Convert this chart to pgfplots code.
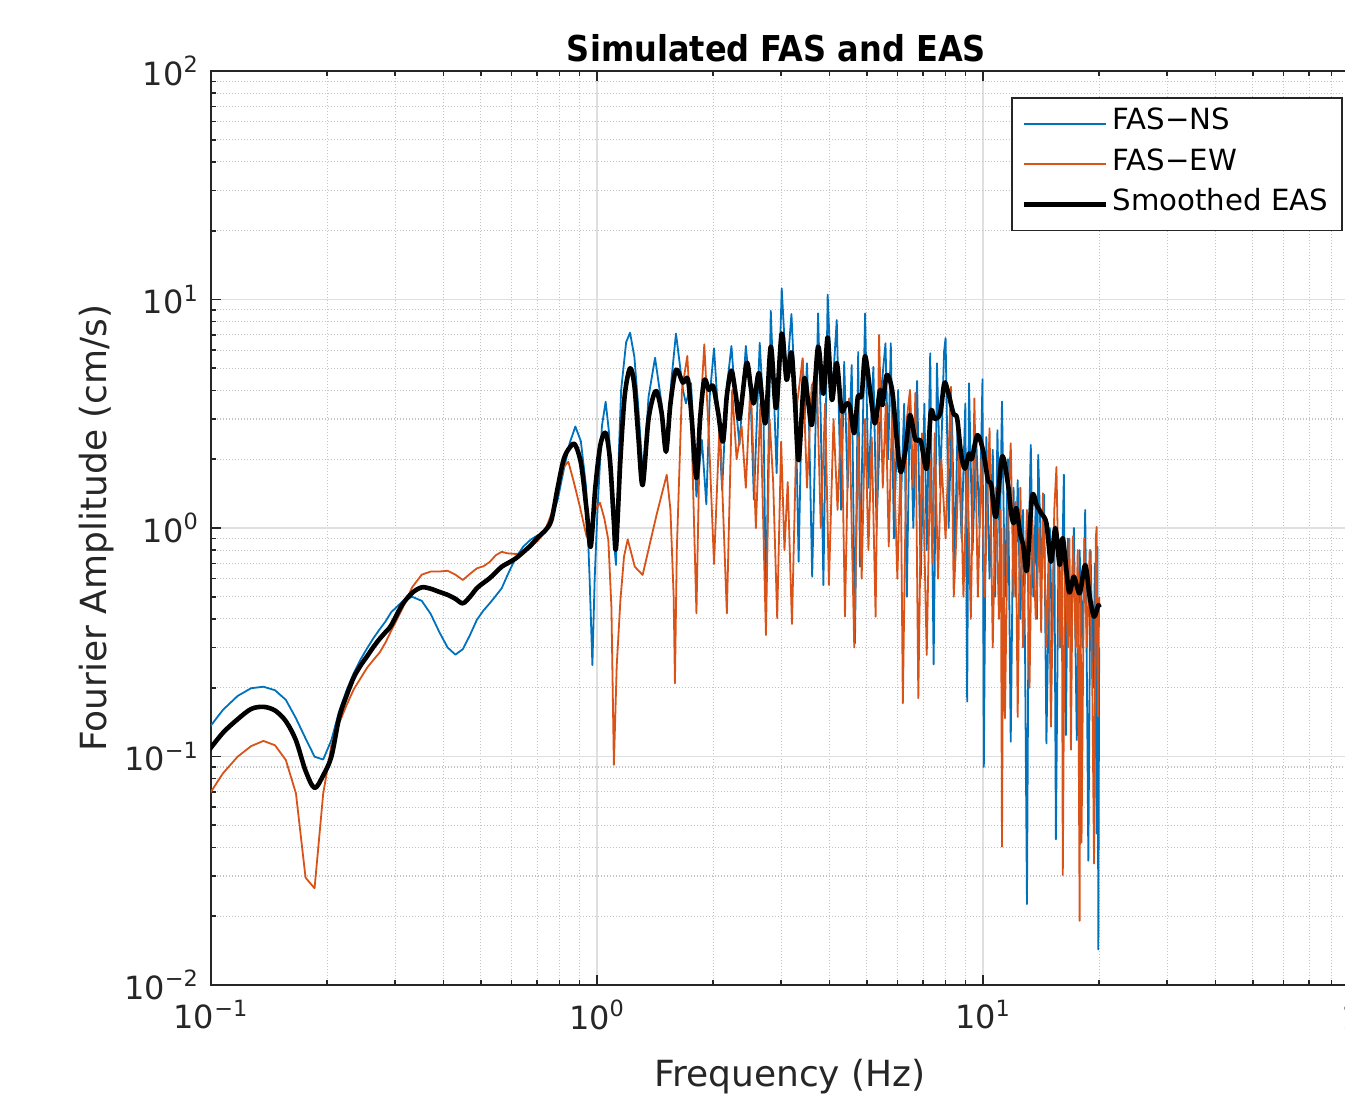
\documentclass[border=0pt]{standalone}
\usepackage{fontspec}
\setmainfont{DejaVu Sans}
\newfontfamily\titlefont{DejaVu Sans Condensed}
\usepackage{pgfplots}
\pgfplotsset{compat=1.18}
\definecolor{nsblue}{RGB}{0,114,189}
\definecolor{ewred}{RGB}{217,83,25}
\definecolor{axgray}{RGB}{38,38,38}
\definecolor{majgrid}{RGB}{223,223,223}
\definecolor{mingrid}{RGB}{195,195,195}
\begin{document}
\begin{tikzpicture}
\begin{axis}[
  at={(0,0)}, anchor=south west,
  scale only axis, width=579pt, height=457pt,
  xmode=log, ymode=log,
  xmin=0.1, xmax=100, ymin=0.01, ymax=100,
  xtick={0.1,1,10,100},
  xticklabels={10\textsuperscript{−1},10\textsuperscript{0},10\textsuperscript{1},10\textsuperscript{2}},
  minor xtick={0.2,0.3,0.4,0.5,0.6,0.7,0.8,0.9,2,3,4,5,6,7,8,9,20,30,40,50,60,70,80,90},
  ytick={0.01,0.1,1,10,100},
  yticklabels={10\textsuperscript{−2},10\textsuperscript{−1},10\textsuperscript{0},10\textsuperscript{1},10\textsuperscript{2}},
  minor ytick={0.02,0.03,0.04,0.05,0.06,0.07,0.08,0.09,0.2,0.3,0.4,0.5,0.6,0.7,0.8,0.9,2,3,4,5,6,7,8,9,20,30,40,50,60,70,80,90},
  grid=both,
  major grid style={draw=majgrid, line width=0.6pt},
  minor grid style={draw=mingrid, line width=0.55pt, dash pattern=on 0.6pt off 0.9pt},
  axis line style={draw=axgray, line width=0.8pt},
  every tick/.style={draw=axgray, line width=0.8pt},
  major tick length=5pt, minor tick length=2.5pt,
  tick align=inside,
  xtick pos=both, ytick pos=both,
  ticklabel style={font=\fontsize{16}{19}\selectfont, text=axgray},
  xticklabel style={yshift=-4pt},
  yticklabel style={xshift=-2.5pt},
  title={Simulated FAS and EAS},
  every axis title/.style={at={(axis description cs:0.4883,1)}, anchor=base, yshift=4.65pt,
     font=\titlefont\bfseries\fontsize{17.8}{21}\selectfont},
  xlabel={Frequency (Hz)},
  ylabel={Fourier Amplitude (cm/s)},
  every axis x label/.style={at={(axis description cs:0.5,-0.1113)}, anchor=base,
     font=\fontsize{18}{21}\selectfont, text=axgray},
  every axis y label/.style={at={(axis description cs:-0.0901,0.5)}, rotate=90, anchor=base,
     font=\fontsize{18}{21}\selectfont, text=axgray},
  legend style={at={(axis description cs:0.97755,0.97155)}, anchor=north east,
     draw=axgray, line width=0.8pt, fill=white,
     font=\fontsize{14.6}{17}\selectfont, inner xsep=5pt, inner ysep=6.5pt, row sep=7pt,
     nodes={inner sep=2pt, text height=0.76em, text depth=0.15em}},
  legend cell align=left,
  legend image code/.code={\draw[#1] (0pt,0pt) -- (41pt,0pt);},
]
\addplot[nsblue, line width=0.9pt, line join=round] coordinates {
(0.0977,0.130)(0.1074,0.160)(0.1172,0.184)(0.1270,0.199)(0.1367,0.202)(0.1465,0.195)
(0.1563,0.177)(0.1660,0.147)(0.1758,0.120)(0.1855,0.0998)(0.1953,0.097)(0.2051,0.118)
(0.2148,0.158)(0.2246,0.195)(0.2344,0.232)(0.2441,0.266)(0.2539,0.298)(0.2637,0.330)
(0.2734,0.360)(0.2832,0.390)(0.2930,0.428)(0.3125,0.475)(0.3320,0.500)(0.3516,0.480)
(0.3711,0.420)(0.3906,0.350)(0.4102,0.300)(0.4297,0.279)(0.4492,0.295)(0.4688,0.340)
(0.4883,0.396)(0.5078,0.435)(0.5273,0.468)(0.5469,0.505)(0.5664,0.545)(0.5859,0.620)
(0.6152,0.740)(0.6445,0.830)(0.6738,0.890)(0.7031,0.930)(0.7324,0.960)(0.7617,1.080)
(0.7910,1.330)(0.8203,1.800)(0.8496,2.350)(0.8789,2.780)(0.9082,2.400)(0.9375,1.500)
(0.9570,0.600)(0.9730,0.251)(0.9863,0.600)(1.0020,1.160)(1.0300,2.800)(1.0530,3.570)
(1.0750,2.600)(1.0890,1.370)(1.1050,0.900)(1.1200,0.689)(1.1400,2.200)(1.1550,4.020)
(1.1900,6.500)(1.2180,7.160)(1.2500,5.600)(1.2790,3.400)(1.3180,1.620)(1.3600,3.750)
(1.4140,5.560)(1.4700,3.510)(1.5100,2.120)(1.5600,4.500)(1.6020,7.100)(1.6700,4.020)
(1.7000,3.510)(1.7530,4.300)(1.8100,1.370)(1.8700,2.430)(1.9200,1.270)(1.9600,3.800)
(2.0100,6.120)(2.0600,3.190)(2.1100,1.470)(2.1700,4.150)(2.2300,6.260)(2.2900,3.400)
(2.3400,2.310)(2.4300,6.260)(2.5000,3.750)(2.5500,1.330)(2.6400,6.470)(2.7000,3.190)
(2.7400,0.476)(2.8200,8.930)(2.8800,3.400)(2.9200,1.740)(3.0100,11.20)(3.1000,4.450)
(3.1900,8.640)(3.2700,3.500)(3.3300,0.712)(3.4100,5.440)(3.4500,3.000)(3.5000,5.260)
(3.5500,2.500)(3.6100,0.612)(3.7400,8.700)(3.8000,3.000)(3.8600,0.563)(3.9600,10.50)
(4.0600,3.650)(4.1800,8.130)(4.2900,1.200)(4.3700,5.340)(4.4600,1.500)(4.5700,5.170)
(4.6600,0.313)(4.7500,5.900)(4.8000,0.677)(4.9500,8.700)(5.0500,1.500)(5.2000,5.070)
(5.3000,1.000)(5.4500,4.000)(5.5900,6.430)(5.6800,2.000)(5.7700,6.430)(5.8800,0.900)
(6.0300,4.020)(6.1200,1.200)(6.2500,3.500)(6.3500,0.500)(6.4700,4.000)(6.6000,1.000)
(6.7500,4.400)(6.9000,0.600)(7.0500,3.500)(7.1500,0.800)(7.3000,5.820)(7.4500,0.253)
(7.6000,5.260)(7.7500,1.500)(7.9300,5.900)(8.0000,6.780)(8.1500,1.000)(8.3000,3.500)
(8.4500,0.700)(8.6000,3.000)(8.8000,0.900)(9.0000,3.500)(9.1000,0.174)(9.2000,4.300)
(9.4000,0.800)(9.6000,2.500)(9.8000,1.000)(9.9700,4.480)(10.050,0.090)(10.200,2.500)
(10.400,0.600)(10.600,2.200)(10.750,0.500)(10.900,2.680)(11.050,0.800)(11.200,3.580)
(11.400,0.500)(11.600,2.000)(11.800,0.116)(12.000,1.500)(12.150,0.500)(12.300,1.620)
(12.500,0.400)(12.700,1.200)(12.850,0.300)(13.000,0.0226)(13.150,0.900)(13.300,2.310)
(13.500,0.500)(13.700,1.300)(13.800,0.400)(13.900,2.090)(14.200,0.600)(14.400,1.400)
(14.600,0.114)(14.900,1.000)(15.100,0.300)(15.300,1.080)(15.450,0.0434)(15.700,0.900)
(15.900,0.300)(16.200,1.710)(16.400,0.124)(16.600,0.900)(16.900,0.400)(17.200,1.000)
(17.500,0.118)(17.800,0.800)(18.100,0.300)(18.400,1.200)(18.600,0.200)(18.750,0.035)
(19.000,0.800)(19.300,0.200)(19.500,0.700)(19.700,0.046)(19.800,0.828)(19.900,0.0143)
(20.000,0.300)
};
\addlegendentry{FAS−NS}
\addplot[ewred, line width=0.9pt, line join=round] coordinates {
(0.0977,0.066)(0.1074,0.0844)(0.1172,0.0998)(0.1270,0.111)(0.1367,0.117)(0.1465,0.112)
(0.1563,0.0965)(0.1660,0.069)(0.1758,0.0295)(0.1855,0.0265)(0.1953,0.0687)(0.2051,0.112)
(0.2148,0.140)(0.2246,0.168)(0.2344,0.197)(0.2441,0.220)(0.2539,0.245)(0.2637,0.265)
(0.2734,0.285)(0.2832,0.315)(0.2930,0.355)(0.3125,0.440)(0.3320,0.550)(0.3516,0.625)
(0.3711,0.645)(0.3906,0.645)(0.4102,0.650)(0.4297,0.625)(0.4492,0.592)(0.4688,0.630)
(0.4883,0.666)(0.5078,0.680)(0.5273,0.710)(0.5469,0.760)(0.5664,0.787)(0.5859,0.775)
(0.6152,0.770)(0.6445,0.775)(0.6738,0.830)(0.7031,0.880)(0.7324,0.970)(0.7617,1.150)
(0.7910,1.450)(0.8203,1.850)(0.8430,1.950)(0.8700,1.600)(0.9030,1.240)(0.9400,0.916)
(0.9680,0.948)(0.9900,1.200)(1.0180,1.290)(1.0450,1.100)(1.0700,0.886)(1.0900,0.450)
(1.1060,0.092)(1.1250,0.250)(1.1500,0.484)(1.1750,0.750)(1.2010,0.892)(1.2530,0.677)
(1.3130,0.623)(1.3700,0.850)(1.4300,1.160)(1.5160,1.710)(1.5500,1.200)(1.5800,0.500)
(1.5920,0.209)(1.6100,0.800)(1.6600,4.000)(1.7140,5.660)(1.7600,2.500)(1.8100,0.423)
(1.8500,3.000)(1.8970,6.370)(1.9500,2.500)(2.0100,0.696)(2.0800,3.000)(2.1700,0.423)
(2.2400,4.020)(2.3000,2.000)(2.3700,2.780)(2.4300,1.500)(2.5000,4.450)(2.5800,1.000)
(2.6500,3.500)(2.7400,0.340)(2.8000,3.000)(2.8600,1.600)(2.9300,0.403)(3.0000,2.390)
(3.0600,0.800)(3.1200,1.590)(3.2000,0.380)(3.3000,3.500)(3.4100,5.530)(3.5000,1.500)
(3.6000,4.200)(3.7100,4.670)(3.8000,1.000)(3.9000,3.500)(3.9900,0.563)(4.1000,3.000)
(4.2000,1.200)(4.3000,3.300)(4.3900,0.410)(4.5000,3.690)(4.5700,1.000)(4.6400,0.300)
(4.7500,2.500)(4.8500,0.600)(4.9500,3.000)(5.0500,0.800)(5.1500,2.500)(5.2700,0.409)
(5.3800,7.000)(5.5000,1.500)(5.6000,3.500)(5.7000,0.830)(5.8200,3.500)(6.0000,0.600)
(6.1200,2.000)(6.2000,0.171)(6.3500,3.000)(6.4700,4.020)(6.6000,1.500)(6.6800,3.900)
(6.8000,0.180)(6.9500,2.600)(7.1500,0.278)(7.3000,2.000)(7.4000,0.700)(7.5000,2.600)
(7.6500,0.600)(7.8000,2.000)(8.0000,0.900)(8.2600,4.150)(8.4000,0.500)(8.5000,0.787)
(8.7000,2.500)(8.9000,0.500)(9.1000,2.000)(9.3000,0.400)(9.5000,3.690)(9.7000,0.500)
(9.9000,2.000)(10.100,0.500)(10.400,2.730)(10.600,0.300)(10.800,1.500)(11.000,0.400)
(11.120,1.200)(11.200,0.0403)(11.300,1.000)(11.400,0.147)(11.600,1.200)(11.800,2.350)
(12.000,0.500)(12.150,1.300)(12.300,0.149)(12.500,1.500)(12.700,0.300)(13.000,1.200)
(13.200,0.200)(13.400,1.180)(13.700,0.400)(14.000,1.000)(14.150,0.350)(14.300,1.420)
(14.600,0.300)(14.800,0.800)(15.000,0.135)(15.300,1.200)(15.500,1.850)(15.800,0.300)
(16.000,0.900)(16.100,0.0303)(16.300,0.800)(16.600,0.300)(16.750,0.900)(16.900,0.107)
(17.100,0.916)(17.400,0.300)(17.600,0.800)(17.800,0.0191)(17.900,0.600)(18.000,0.042)
(18.300,0.900)(18.600,0.300)(18.900,0.800)(19.200,0.200)(19.400,0.034)(19.600,0.900)
(19.700,1.010)(19.850,0.150)(20.000,0.500)
};
\addlegendentry{FAS−EW}
\addplot[black, line width=2.3pt, line join=round, smooth, tension=0.5] coordinates {
(0.0977,0.104)(0.1074,0.127)(0.1172,0.1455)(0.1270,0.1614)(0.1367,0.165)(0.1465,0.159)
(0.1563,0.1427)(0.1660,0.1177)(0.1758,0.0866)(0.1855,0.0728)(0.1953,0.0827)(0.2051,0.100)
(0.2148,0.148)(0.2246,0.185)(0.2344,0.222)(0.2441,0.250)(0.2539,0.275)(0.2637,0.302)
(0.2734,0.327)(0.2832,0.350)(0.2930,0.375)(0.3125,0.460)(0.3320,0.520)(0.3516,0.550)
(0.3711,0.542)(0.3906,0.525)(0.4102,0.510)(0.4297,0.490)(0.4492,0.468)(0.4688,0.500)
(0.4883,0.545)(0.5078,0.575)(0.5273,0.603)(0.5469,0.640)(0.5664,0.677)(0.5859,0.700)
(0.6152,0.735)(0.6445,0.785)(0.6738,0.840)(0.7031,0.910)(0.7324,0.970)(0.7617,1.080)
(0.7910,1.500)(0.8200,2.000)(0.8500,2.250)(0.8770,2.320)(0.9100,1.900)(0.9400,1.200)
(0.9630,0.828)(0.9900,1.500)(1.0200,2.300)(1.0530,2.610)(1.0800,2.000)(1.1050,1.100)
(1.1200,0.815)(1.1500,2.000)(1.1800,3.800)(1.2180,5.000)(1.2500,4.200)(1.2800,2.500)
(1.3130,1.540)(1.3600,3.000)(1.4200,3.980)(1.4700,3.200)(1.5100,2.160)(1.5500,3.500)
(1.6020,4.920)(1.6700,4.330)(1.7200,4.480)(1.7600,3.000)(1.8100,1.650)(1.8500,3.000)
(1.8970,4.450)(1.9500,4.020)(2.0000,4.180)(2.0600,3.200)(2.1200,2.390)(2.1700,3.800)
(2.2300,4.880)(2.2900,3.800)(2.3400,3.020)(2.4400,5.260)(2.5000,4.200)(2.5500,3.510)
(2.6300,4.760)(2.7300,2.870)(2.8200,6.220)(2.9100,3.350)(3.0100,7.100)(3.1000,4.450)
(3.1900,5.870)(3.2600,3.500)(3.3300,1.980)(3.4400,4.470)(3.5300,3.500)(3.6100,2.870)
(3.7400,6.220)(3.8600,3.870)(3.9600,6.830)(4.0600,3.630)(4.1800,5.280)(4.3000,3.280)
(4.4200,3.500)(4.5200,3.400)(4.6400,2.600)(4.7400,3.750)(4.8500,3.800)(4.9500,5.660)
(5.1100,3.870)(5.2500,2.870)(5.4100,4.020)(5.4900,3.450)(5.6300,4.670)(5.8200,3.980)
(5.9800,2.430)(6.1200,1.760)(6.3000,2.200)(6.4700,3.120)(6.6800,2.440)(6.9000,2.400)
(7.1500,1.820)(7.3300,3.230)(7.5000,3.000)(7.7500,3.180)(7.9400,4.300)(8.1000,4.000)
(8.3800,3.180)(8.5700,3.020)(8.7800,2.090)(8.9800,1.820)(9.2000,2.120)(9.3500,2.000)
(9.6700,2.550)(10.000,2.190)(10.300,1.620)(10.500,1.550)(10.800,1.120)(11.200,2.050)
(11.600,1.570)(11.800,1.200)(12.000,1.050)(12.200,1.220)(12.500,0.932)(12.700,0.850)
(13.000,0.655)(13.400,1.370)(13.800,1.250)(14.200,1.150)(14.600,1.050)(15.000,0.712)
(15.400,1.000)(15.800,0.689)(16.100,0.901)(16.700,0.527)(17.200,0.612)(17.800,0.518)
(18.400,0.689)(18.900,0.500)(19.400,0.409)(19.900,0.460)(20.000,0.450)
};
\addlegendentry{Smoothed EAS}
\end{axis}
\pgfresetboundingbox
\path[use as bounding box] (-105.5pt,-56.5pt) rectangle (567pt,492.5pt);
\end{tikzpicture}
\end{document}
